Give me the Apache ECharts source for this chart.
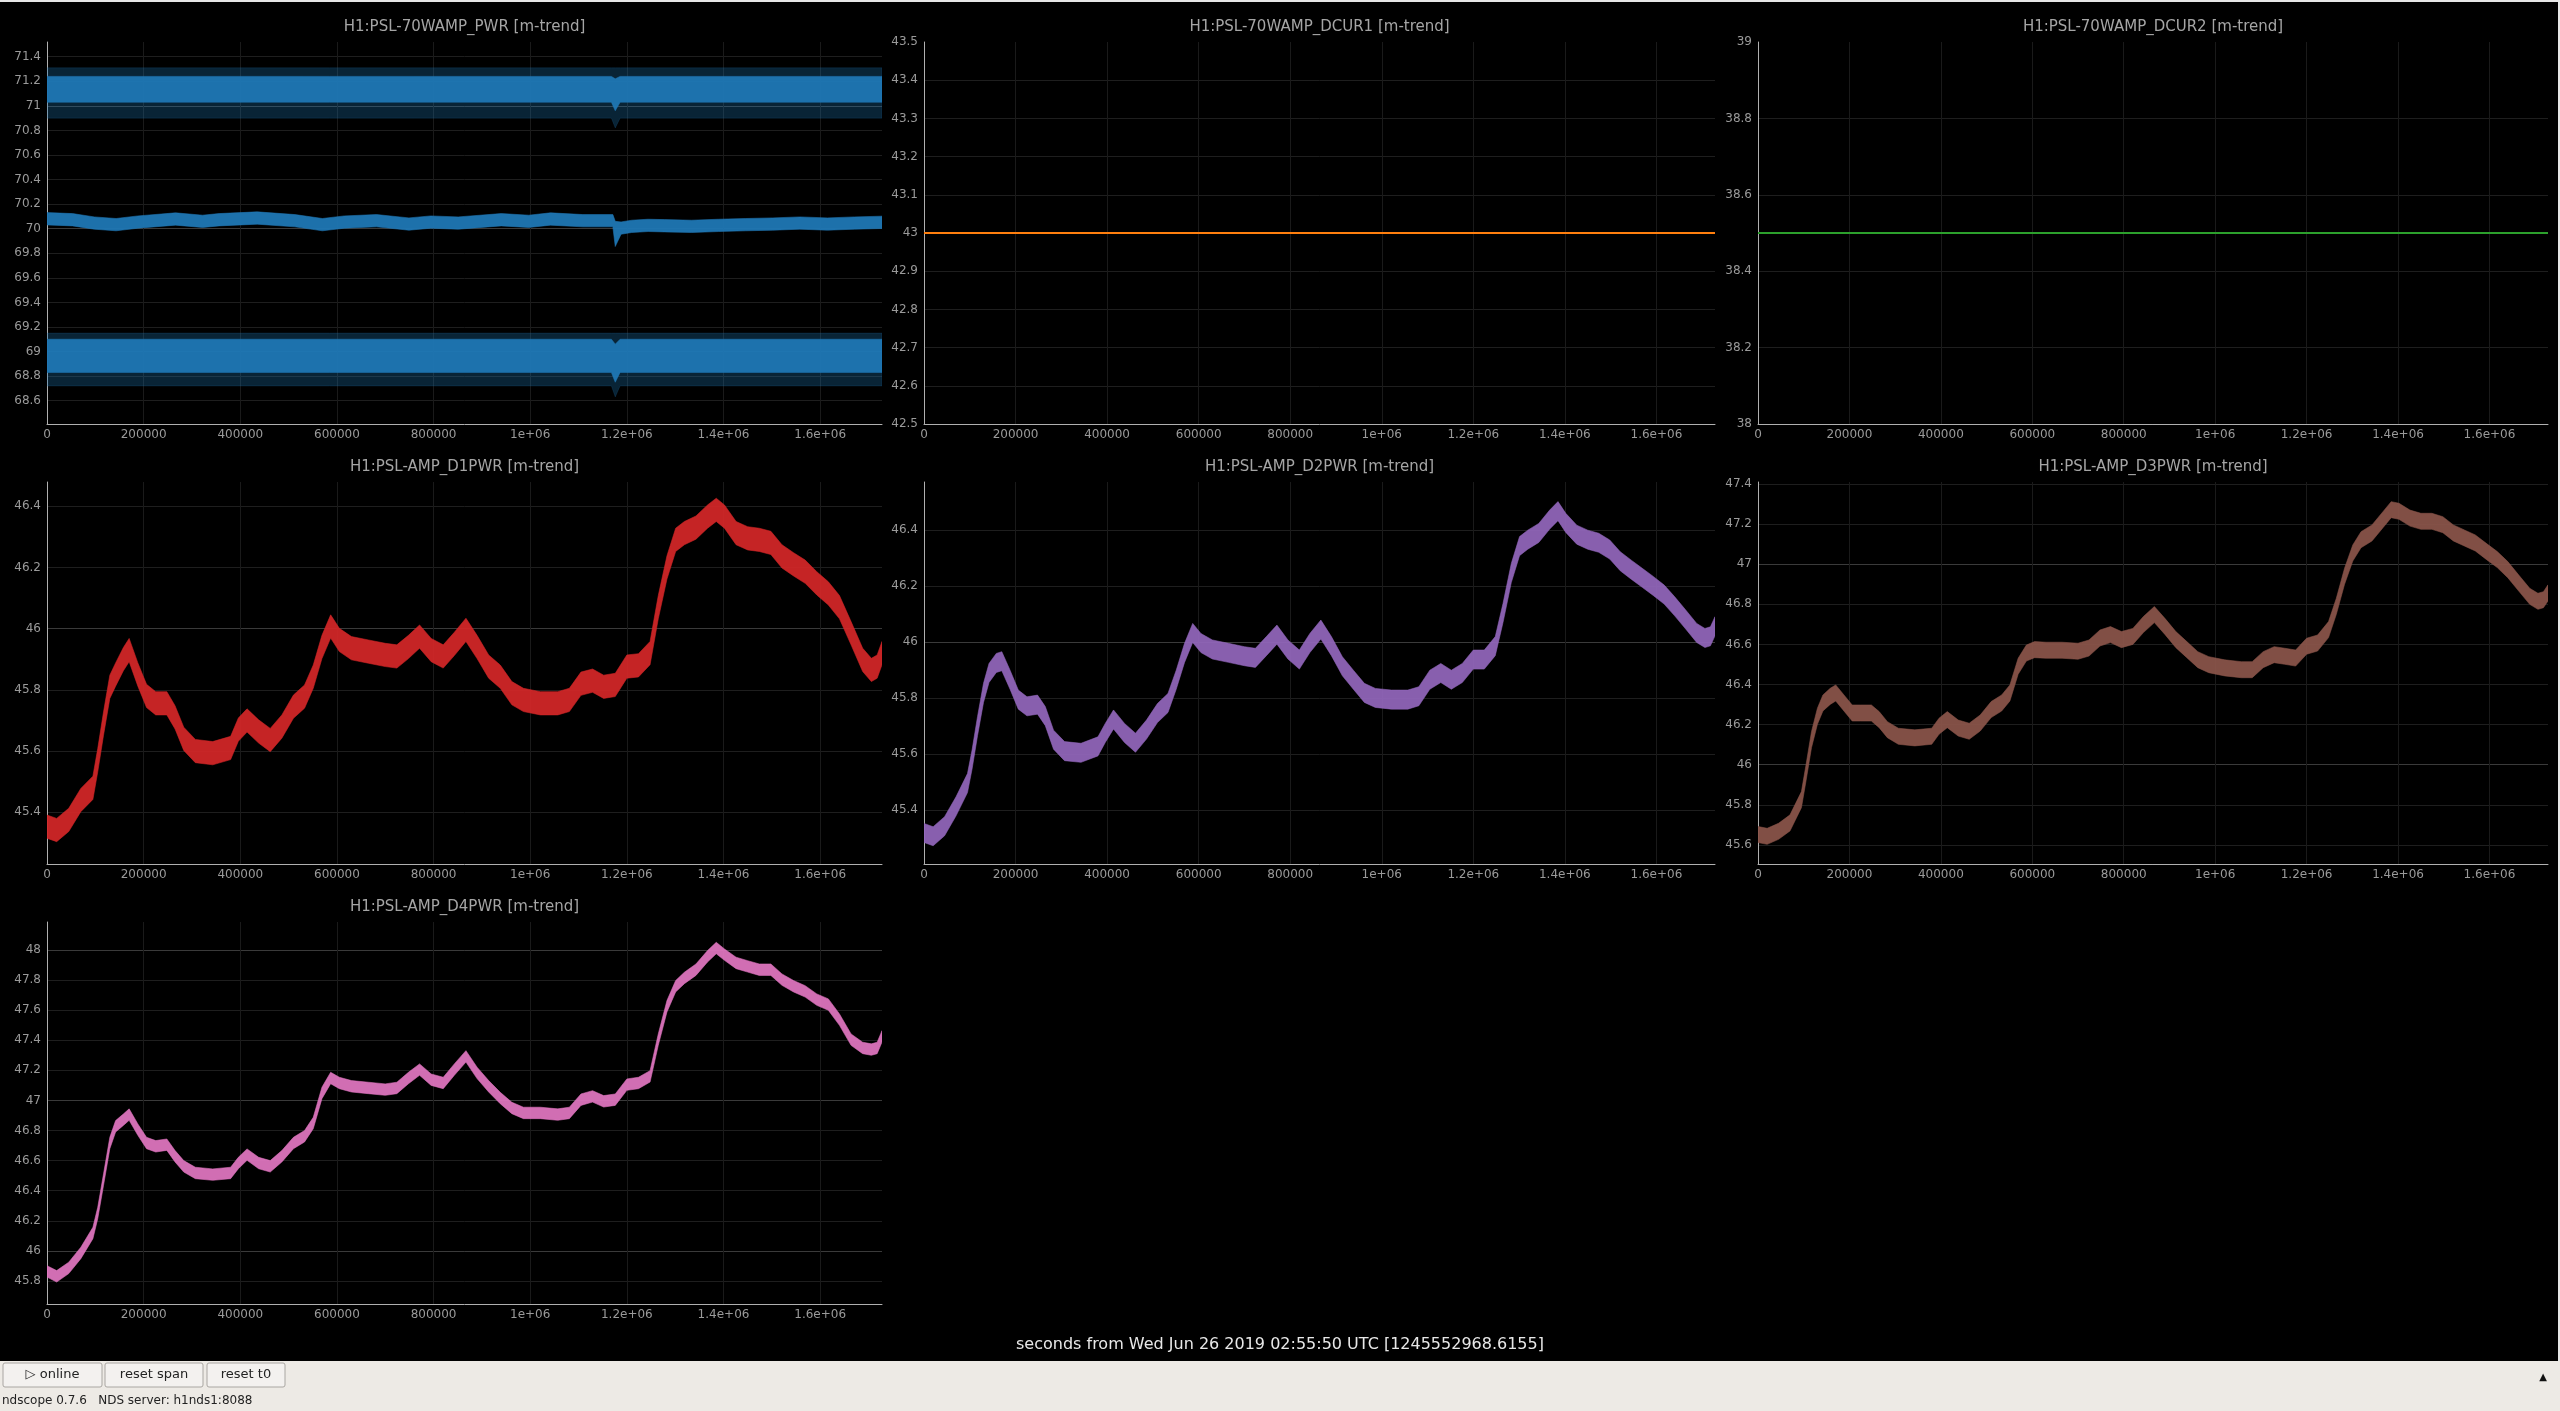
<!DOCTYPE html>
<html><head><meta charset="utf-8">
<script src="https://cdn.jsdelivr.net/npm/echarts@6/dist/echarts.min.js"></script>
<style>html,body{margin:0;padding:0;background:#000;overflow:hidden}#c{width:2560px;height:1411px}</style>
</head><body><div id="c"></div><script>
// ---------- data ----------
const X_MAX = 1728000;
const X_TICK = 200000;

const T_D = [0,20000,45000,70000,95000,105000,117000,130000,142000,158000,170000,188000,206000,225000,248000,265000,283000,307000,343000,380000,396000,414000,438000,462000,486000,510000,533000,551000,569000,587000,605000,630000,665000,700000,724000,748000,771000,795000,820000,843000,867000,890000,914000,938000,962000,986000,1021000,1057000,1081000,1105000,1129000,1152000,1176000,1200000,1224000,1248000,1265000,1283000,1301000,1319000,1343000,1367000,1385000,1402000,1426000,1450000,1474000,1498000,1521000,1545000,1569000,1593000,1617000,1640000,1664000,1688000,1706000,1718000,1728000];

const D1_LO = [45.315,45.304,45.337,45.402,45.442,45.532,45.652,45.772,45.812,45.862,45.892,45.812,45.742,45.718,45.718,45.672,45.602,45.562,45.555,45.572,45.632,45.662,45.626,45.598,45.642,45.707,45.740,45.805,45.902,45.969,45.925,45.898,45.887,45.876,45.871,45.902,45.936,45.892,45.871,45.912,45.958,45.902,45.838,45.805,45.751,45.729,45.718,45.718,45.729,45.782,45.792,45.772,45.778,45.838,45.842,45.882,46.032,46.162,46.252,46.274,46.292,46.328,46.350,46.328,46.274,46.257,46.252,46.242,46.198,46.172,46.148,46.110,46.077,46.032,45.947,45.860,45.827,45.838,45.882];
const D1_HI = [45.391,45.380,45.413,45.478,45.518,45.608,45.728,45.848,45.888,45.938,45.968,45.888,45.818,45.794,45.794,45.748,45.678,45.638,45.631,45.648,45.708,45.738,45.702,45.674,45.718,45.783,45.816,45.881,45.978,46.045,46.001,45.974,45.963,45.952,45.947,45.978,46.012,45.968,45.947,45.988,46.034,45.978,45.914,45.881,45.827,45.805,45.794,45.794,45.805,45.858,45.868,45.848,45.854,45.914,45.918,45.958,46.108,46.238,46.328,46.350,46.368,46.404,46.426,46.404,46.350,46.333,46.328,46.318,46.274,46.248,46.224,46.186,46.153,46.108,46.023,45.936,45.903,45.914,45.958];

const D2_LO = [45.284,45.272,45.308,45.379,45.462,45.546,45.666,45.784,45.855,45.891,45.897,45.831,45.760,45.736,45.742,45.701,45.617,45.576,45.570,45.593,45.641,45.689,45.641,45.606,45.653,45.712,45.748,45.831,45.926,45.998,45.962,45.939,45.927,45.915,45.909,45.951,45.992,45.939,45.903,45.962,46.010,45.951,45.879,45.831,45.784,45.766,45.760,45.760,45.772,45.831,45.855,45.831,45.855,45.903,45.903,45.951,46.070,46.212,46.308,46.331,46.355,46.403,46.433,46.391,46.349,46.331,46.320,46.296,46.254,46.224,46.195,46.166,46.135,46.093,46.046,45.998,45.980,45.986,46.022];
const D2_HI = [45.352,45.340,45.376,45.447,45.530,45.614,45.734,45.852,45.923,45.959,45.965,45.899,45.828,45.804,45.810,45.769,45.685,45.644,45.638,45.661,45.709,45.757,45.709,45.674,45.721,45.780,45.816,45.899,45.994,46.066,46.030,46.007,45.995,45.983,45.977,46.019,46.060,46.007,45.971,46.030,46.078,46.019,45.947,45.899,45.852,45.834,45.828,45.828,45.840,45.899,45.923,45.899,45.923,45.971,45.971,46.019,46.138,46.280,46.376,46.399,46.423,46.471,46.501,46.459,46.417,46.399,46.388,46.364,46.322,46.292,46.263,46.234,46.203,46.161,46.114,46.066,46.048,46.054,46.090];

const D3_LO = [45.612,45.603,45.628,45.670,45.786,45.919,46.085,46.202,46.268,46.301,46.318,46.268,46.218,46.218,46.218,46.185,46.135,46.102,46.094,46.102,46.152,46.185,46.143,46.127,46.168,46.235,46.268,46.318,46.451,46.517,46.534,46.531,46.531,46.526,46.542,46.592,46.609,46.584,46.600,46.659,46.709,46.650,46.584,46.534,46.484,46.459,46.443,46.434,46.434,46.484,46.509,46.501,46.492,46.551,46.567,46.634,46.750,46.900,47.016,47.082,47.116,47.182,47.232,47.224,47.190,47.174,47.174,47.157,47.116,47.091,47.066,47.024,46.983,46.933,46.866,46.800,46.775,46.783,46.817];
const D3_HI = [45.692,45.683,45.708,45.750,45.866,45.999,46.165,46.282,46.348,46.381,46.398,46.348,46.298,46.298,46.298,46.265,46.215,46.182,46.174,46.182,46.232,46.265,46.223,46.207,46.248,46.315,46.348,46.398,46.531,46.597,46.614,46.611,46.611,46.606,46.622,46.672,46.689,46.664,46.680,46.739,46.789,46.730,46.664,46.614,46.564,46.539,46.523,46.514,46.514,46.564,46.589,46.581,46.572,46.631,46.647,46.714,46.830,46.980,47.096,47.162,47.196,47.262,47.312,47.304,47.270,47.254,47.254,47.237,47.196,47.171,47.146,47.104,47.063,47.013,46.946,46.880,46.855,46.863,46.897];

const D4_LO = [45.826,45.793,45.849,45.948,46.081,46.214,46.436,46.679,46.790,46.834,46.868,46.768,46.679,46.657,46.668,46.591,46.524,46.480,46.469,46.480,46.546,46.602,46.546,46.524,46.591,46.679,46.724,46.812,47.012,47.111,47.078,47.056,47.045,47.034,47.045,47.111,47.167,47.100,47.078,47.167,47.255,47.145,47.056,46.978,46.912,46.879,46.879,46.868,46.879,46.967,46.989,46.956,46.967,47.067,47.078,47.122,47.366,47.588,47.721,47.776,47.831,47.920,47.975,47.931,47.876,47.853,47.831,47.831,47.765,47.721,47.687,47.632,47.599,47.499,47.366,47.311,47.300,47.311,47.388];
const D4_HI = [45.902,45.869,45.925,46.024,46.157,46.290,46.512,46.755,46.866,46.910,46.944,46.844,46.755,46.733,46.744,46.667,46.600,46.556,46.545,46.556,46.622,46.678,46.622,46.600,46.667,46.755,46.800,46.888,47.088,47.187,47.154,47.132,47.121,47.110,47.121,47.187,47.243,47.176,47.154,47.243,47.331,47.221,47.132,47.054,46.988,46.955,46.955,46.944,46.955,47.043,47.065,47.032,47.043,47.143,47.154,47.198,47.442,47.664,47.797,47.852,47.907,47.996,48.051,48.007,47.952,47.929,47.907,47.907,47.841,47.797,47.763,47.708,47.675,47.575,47.442,47.387,47.376,47.387,47.464];

const T_PWR_MID = [0,53000,98000,143000,188000,266000,322000,356000,435000,513000,570000,615000,682000,749000,794000,851000,940000,997000,1042000,1109000,1171000,1176000,1188000,1210000,1244000,1278000,1334000,1390000,1446000,1502000,1558000,1615000,1671000,1728000];
const PWR_MID_LO = [70.031,70.023,69.996,69.983,70.004,70.029,70.010,70.023,70.037,70.015,69.983,70.004,70.015,69.988,70.004,69.996,70.023,70.010,70.029,70.015,70.015,69.855,69.955,69.969,69.977,69.974,69.969,69.977,69.983,69.988,69.996,69.988,69.996,70.002];
const PWR_MID_HI = [70.131,70.123,70.096,70.083,70.104,70.129,70.110,70.123,70.137,70.115,70.083,70.104,70.115,70.088,70.104,70.096,70.123,70.110,70.129,70.115,70.115,70.060,70.055,70.069,70.077,70.074,70.069,70.077,70.083,70.088,70.096,70.088,70.096,70.102];

const T_PWR_EDGE = [0,1168000,1176000,1186000,1728000];
const PWR_MAX_LO = [71.03,71.03,70.96,71.03,71.03];
const PWR_MAX_HI = [71.24,71.24,71.22,71.24,71.24];
const PWR_MAX_SPIKE_LO = [70.90,70.90,70.82,70.90,70.90];
const PWR_MAX_SPIKE_HI = [71.31,71.31,71.31,71.31,71.31];
const PWR_MIN_LO = [68.83,68.83,68.75,68.83,68.83];
const PWR_MIN_HI = [69.10,69.10,69.06,69.10,69.10];
const PWR_MIN_SPIKE_LO = [68.72,68.72,68.63,68.72,68.72];
const PWR_MIN_SPIKE_HI = [69.15,69.15,69.15,69.15,69.15];

const T_DCUR = [0,1728000];
const DCUR1 = [43.0,43.0];
const DCUR2 = [38.5,38.5];

const TITLES = ['H1:PSL-70WAMP_PWR [m-trend]','H1:PSL-70WAMP_DCUR1 [m-trend]','H1:PSL-70WAMP_DCUR2 [m-trend]','H1:PSL-AMP_D1PWR [m-trend]','H1:PSL-AMP_D2PWR [m-trend]','H1:PSL-AMP_D3PWR [m-trend]','H1:PSL-AMP_D4PWR [m-trend]'];
const Y_RANGES = [[68.41,71.52],[42.5,43.5],[38,39],[45.231,46.479],[45.207,46.571],[45.505,47.41],[45.647,48.186]];
const Y_STEPS = [0.2,0.1,0.2,0.2,0.2,0.2,0.2];
const X_LABEL = 'seconds from Wed Jun 26 2019 02:55:50 UTC [1245552968.6155]';

// ---------- layout / style ----------
const FONT = "'DejaVu Sans', sans-serif";
const C = {blue:'#1f77b4',orange:'#ff7f0e',green:'#2ca02c',red:'#d62728',purple:'#9467bd',brown:'#8c564b',pink:'#e377c2'};
const BOX = [
  {left:47,  top:42,  width:835, height:382},
  {left:924, top:42,  width:791, height:382},
  {left:1758,top:42,  width:790, height:382},
  {left:47,  top:482, width:835, height:382},
  {left:924, top:482, width:791, height:382},
  {left:1758,top:482, width:790, height:382},
  {left:47,  top:922, width:835, height:382}
];
const EDGE_LABELS = [false,true,true,false,false,false,false];

const grids=[], xAxes=[], yAxes=[], series=[], graphics=[];
BOX.forEach((b,i)=>{
  grids.push({left:b.left, top:b.top, width:b.width, height:b.height, containLabel:false});
  xAxes.push({type:'value', gridIndex:i, min:0, max:X_MAX, interval:X_TICK,
    axisLine:{show:true, onZero:false, lineStyle:{color:'#b0b0b0', width:1}},
    axisTick:{show:false},
    axisLabel:{color:'#9a9a9a', fontSize:12, fontFamily:FONT, margin:5, showMaxLabel:false,
      formatter:v=> v>=1e6 ? (v/1e6)+'e+06' : String(v)},
    splitLine:{show:true, showMinLine:false, showMaxLine:false, lineStyle:{color:'#1a1a1a', width:1}}});
  const [mn,mx] = Y_RANGES[i];
  yAxes.push({type:'value', gridIndex:i, min:mn, max:mx, minInterval:Y_STEPS[i], maxInterval:Y_STEPS[i], splitNumber:5,
    axisLine:{show:true, onZero:false, lineStyle:{color:'#b0b0b0', width:1}},
    axisTick:{show:false},
    axisLabel:{color:'#9a9a9a', fontSize:12, fontFamily:FONT, margin:6,
      showMinLabel:EDGE_LABELS[i], showMaxLabel:EDGE_LABELS[i],
      formatter:v=> String(+(+v).toFixed(3))},
    splitLine:{show:true, showMinLine:false, showMaxLine:false, lineStyle:{color:'#1e1e1e', width:1}}});
  yAxes.push({type:'value', gridIndex:i, min:mn, max:mx, minInterval:1, maxInterval:1, splitNumber:2,
    axisLine:{show:false}, axisTick:{show:false}, axisLabel:{show:false},
    splitLine:{show:true, showMinLine:false, showMaxLine:false, lineStyle:{color:'#3a3a3a', width:1}}});
  graphics.push({type:'text', x:b.left+b.width/2, y:b.top-15, silent:true,
    style:{text:TITLES[i], fill:'#a5a5a5', font:'15px '+FONT, textAlign:'center', textVerticalAlign:'middle'}});
});

function band(gi, t, lo, hi, color, opacity){
  return {type:'custom', xAxisIndex:gi, yAxisIndex:2*gi, silent:true, animation:false, clip:true, z:3,
    data:t.map((x,k)=>[x, lo[k], hi[k]]),
    encode:{x:0, y:[1,2]},
    renderItem:function(params, api){
      if (params.dataIndexInside !== 0) return null;
      const n = params.dataInsideLength;
      const up=[], dn=[];
      for (let j=0;j<n;j++){
        up.push(api.coord([api.value(0,j), api.value(2,j)]));
        dn.push(api.coord([api.value(0,j), api.value(1,j)]));
      }
      return {type:'polygon', shape:{points:up.concat(dn.reverse())}, style:{fill:color, opacity:opacity, stroke:color, lineWidth:0.6}};
    }};
}
function flat(gi, t, v, color){
  return {type:'line', xAxisIndex:gi, yAxisIndex:2*gi, data:t.map((x,k)=>[x,v[k]]), showSymbol:false, symbol:'none',
    silent:true, animation:false, lineStyle:{color:color, width:2}, z:3};
}

series.push(band(0, T_PWR_EDGE, PWR_MAX_SPIKE_LO, PWR_MAX_SPIKE_HI, C.blue, 0.3));
series.push(band(0, T_PWR_EDGE, PWR_MAX_LO, PWR_MAX_HI, C.blue, 0.95));
series.push(band(0, T_PWR_MID, PWR_MID_LO, PWR_MID_HI, C.blue, 0.95));
series.push(band(0, T_PWR_EDGE, PWR_MIN_SPIKE_LO, PWR_MIN_SPIKE_HI, C.blue, 0.3));
series.push(band(0, T_PWR_EDGE, PWR_MIN_LO, PWR_MIN_HI, C.blue, 0.95));
series.push(flat(1, T_DCUR, DCUR1, C.orange));
series.push(flat(2, T_DCUR, DCUR2, C.green));
series.push(band(3, T_D, D1_LO, D1_HI, C.red, 0.92));
series.push(band(4, T_D, D2_LO, D2_HI, C.purple, 0.92));
series.push(band(5, T_D, D3_LO, D3_HI, C.brown, 0.92));
series.push(band(6, T_D, D4_LO, D4_HI, C.pink, 0.92));

// window chrome
graphics.push({type:'rect', shape:{x:0,y:0,width:2560,height:2}, style:{fill:'#e6e6e6'}, silent:true});
graphics.push({type:'rect', shape:{x:2558,y:0,width:2,height:1361}, style:{fill:'#e6e6e6'}, silent:true});
graphics.push({type:'text', x:1280, y:1345, silent:true,
  style:{text:X_LABEL, fill:'#e8e8e8', font:'16px '+FONT, textAlign:'center', textVerticalAlign:'middle'}});
graphics.push({type:'rect', shape:{x:0,y:1361,width:2560,height:50}, style:{fill:'#edeae5'}, silent:true});
[['▷ online',3,99],['reset span',105,98],['reset t0',207,78]].forEach(([txt,x,w])=>{
  graphics.push({type:'rect', shape:{x:x,y:1363,width:w,height:24,r:2}, style:{fill:'#f3f1ef', stroke:'#a9a6a2', lineWidth:1}, silent:true});
  graphics.push({type:'text', x:x+w/2, y:1375, silent:true,
    style:{text:txt, fill:'#222', font:'13px '+FONT, textAlign:'center', textVerticalAlign:'middle'}});
});
graphics.push({type:'text', x:2, y:1401, silent:true,
  style:{text:'ndscope 0.7.6   NDS server: h1nds1:8088', fill:'#222', font:'12px '+FONT, textAlign:'left', textVerticalAlign:'middle'}});
graphics.push({type:'text', x:2543, y:1377, silent:true,
  style:{text:'▲', fill:'#111', font:'10px '+FONT, textAlign:'center', textVerticalAlign:'middle'}});

const chart = echarts.init(document.getElementById('c'), null, {renderer:'canvas', width:2560, height:1411});
chart.setOption({
  backgroundColor:'#000',
  animation:false,
  grid:grids, xAxis:xAxes, yAxis:yAxes, series:series, graphic:graphics
});
</script></body></html>
